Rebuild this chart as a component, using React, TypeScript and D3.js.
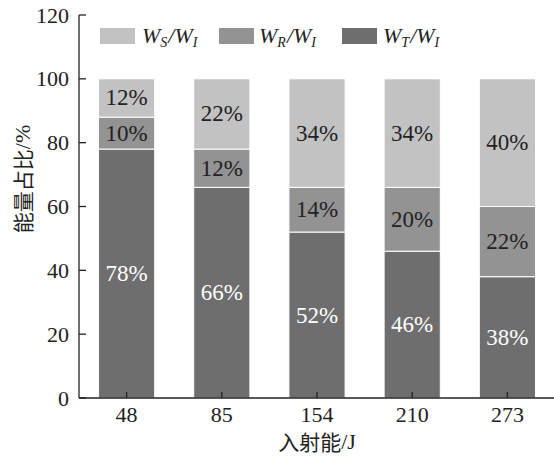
import React from "react";
import * as d3 from "d3";

const categories = ["48", "85", "154", "210", "273"];
const seriesT = [78, 66, 52, 46, 38];
const seriesR = [10, 12, 14, 20, 22];
const seriesS = [12, 22, 34, 34, 40];
const yTicks = [0, 20, 40, 60, 80, 100, 120];
const seriesKeys = ["T", "R", "S"];
const colors: Record<string, string> = { T: "#6e6e6e", R: "#939393", S: "#c2c2c2" };
const labelColors: Record<string, string> = { T: "#ffffff", R: "#222222", S: "#222222" };

const W = 554;
const H = 459;
const left = 79;
const right = 555;
const top = 15;
const bottom = 398;
const serif = "'Liberation Serif', 'Times New Roman', serif";
const cjk = "'Noto Sans CJK SC', 'Liberation Serif', serif";

export default function App() {
  const x = d3.scaleBand<string>().domain(categories).range([left, right]).paddingInner(0.41).paddingOuter(0.205);
  const y = d3.scaleLinear().domain([0, 120]).range([bottom, top]);
  const rows = categories.map((c, i) => ({ cat: c, T: seriesT[i], R: seriesR[i], S: seriesS[i] }));
  const stack = d3.stack<any>().keys(seriesKeys)(rows);

  const legend = [
    { key: "S", sub: "S", rx: 100, tx: 142 },
    { key: "R", sub: "R", rx: 219, tx: 259 },
    { key: "T", sub: "T", rx: 342, tx: 383 },
  ];

  return (
    <svg width={W} height={H} style={{ position: "absolute", left: 0, top: 0, background: "#fff" }}>
      {stack.map((layer) => (
        <g key={layer.key}>
          {layer.map((d, i) => {
            const bx = x(categories[i])!;
            const y0 = y(d[0]);
            const y1 = y(d[1]);
            return (
              <g key={i}>
                <rect x={bx} y={y1} width={x.bandwidth()} height={y0 - y1} fill={colors[layer.key]} stroke="#ffffff" strokeWidth={1} />
                <text
                  x={bx + x.bandwidth() / 2}
                  y={(y0 + y1) / 2}
                  textAnchor="middle"
                  dominantBaseline="central"
                  fontFamily={serif}
                  fontSize={23}
                  fill={labelColors[layer.key]}
                >
                  {`${d[1] - d[0]}%`}
                </text>
              </g>
            );
          })}
        </g>
      ))}
      {/* axes */}
      <line x1={left} y1={top} x2={left} y2={bottom} stroke="#222" strokeWidth={1.3} />
      <line x1={left} y1={bottom} x2={right} y2={bottom} stroke="#222" strokeWidth={1.3} />
      {yTicks.map((t) => (
        <g key={t}>
          <line x1={left} x2={left + 7} y1={y(t)} y2={y(t)} stroke="#222" strokeWidth={1.3} />
          <text x={69} y={y(t)} textAnchor="end" dominantBaseline="central" fontFamily={serif} fontSize={22} fill="#222">
            {t}
          </text>
        </g>
      ))}
      {categories.map((c) => (
        <g key={c}>
          <line x1={x(c)! + x.bandwidth() / 2} x2={x(c)! + x.bandwidth() / 2} y1={bottom} y2={bottom - 6} stroke="#222" strokeWidth={1.3} />
          <text x={x(c)! + x.bandwidth() / 2} y={414} textAnchor="middle" dominantBaseline="central" fontFamily={serif} fontSize={22} fill="#222">
            {c}
          </text>
        </g>
      ))}
      <text x={(left + right) / 2} y={441} textAnchor="middle" dominantBaseline="central" fontFamily={cjk} fontSize={21} fill="#222">
        入射能<tspan fontFamily={serif} fontSize={22}>/J</tspan>
      </text>
      <text
        transform={`translate(22, 179) rotate(-90)`}
        textAnchor="middle"
        dominantBaseline="central"
        fontFamily={cjk}
        fontSize={21}
        fill="#222"
      >
        能量占比<tspan fontFamily={serif} fontSize={22}>/%</tspan>
      </text>
      {/* legend */}
      {legend.map((l) => (
        <g key={l.key}>
          <rect x={l.rx} y={28} width={35} height={16} fill={colors[l.key]} />
          <text x={l.tx} y={43} fontFamily={serif} fontSize={22} fontStyle="italic" fill="#222">
            W<tspan fontSize={14} dy={4}>{l.sub}</tspan>
            <tspan dy={-4} dx={1}>/W</tspan>
            <tspan fontSize={14} dy={4}>I</tspan>
          </text>
        </g>
      ))}
    </svg>
  );
}
